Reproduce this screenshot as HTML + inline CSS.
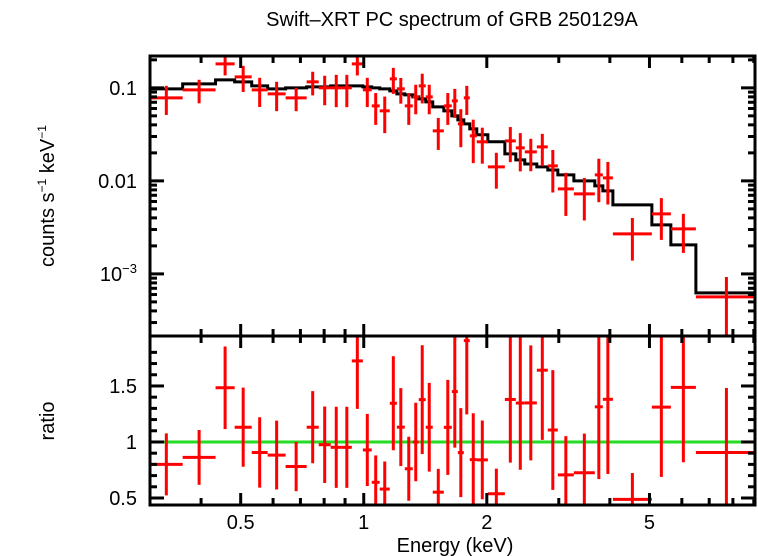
<!DOCTYPE html>
<html><head><meta charset="utf-8"><style>
html,body{margin:0;padding:0;background:#fff;}
svg{display:block;font-family:"Liberation Sans",sans-serif;}
</style></head><body>
<svg id="chart" width="758" height="556" viewBox="0 0 758 556" xmlns="http://www.w3.org/2000/svg">
<text x="452" y="26" font-size="20" text-anchor="middle">Swift–XRT PC spectrum of GRB 250129A</text>
<text transform="translate(54,196) rotate(-90)" font-size="20" text-anchor="middle">counts s<tspan font-size="12" dy="-8">−1</tspan><tspan dy="8"> keV</tspan><tspan font-size="12" dy="-8">−1</tspan></text>
<text transform="translate(54,421) rotate(-90)" font-size="20" text-anchor="middle">ratio</text>
<text x="455" y="552" font-size="20" text-anchor="middle">Energy (keV)</text>
<g id="g-top"></g>
<g id="g-bot"></g>
</svg>
<script>
const binEdges = [0.30,0.3606,0.434,0.4833,0.532,0.582,0.644,0.725,0.776,0.830,0.884,0.935,0.995,1.046,1.094,1.158,1.205,1.260,1.318,1.363,1.418,1.475,1.570,1.642,1.699,1.757,1.817,1.890,2.012,2.214,2.355,2.477,2.651,2.820,2.984,3.266,3.675,3.845,4.069,5.068,5.640,6.494,9.16];
const rates = [0.0781,0.0952,0.181,0.1313,0.0952,0.0862,0.0781,0.116,0.1,0.1,0.1,0.181,0.0952,0.064,0.0566,0.125,0.0976,0.064,0.080,0.105,0.080,0.0345,0.064,0.0725,0.041,0.0781,0.0305,0.0263,0.01414,0.0269,0.02264,0.0205,0.0232,0.0145,0.0082,0.00725,0.0116,0.01077,0.00269,0.00442,0.00305,0.000566];
const rateErrs = [0.027,0.027,0.045,0.041,0.033,0.030,0.022,0.033,0.035,0.038,0.038,0.045,0.033,0.024,0.024,0.039,0.030,0.024,0.028,0.037,0.028,0.013,0.024,0.025,0.018,0.027,0.015,0.011,0.0059,0.011,0.010,0.0078,0.0088,0.007,0.004,0.0035,0.0057,0.0052,0.0013,0.0021,0.00137,0.00036];
const model = [0.0976,0.1104,0.122,0.116,0.105,0.0976,0.1,0.1025,0.1025,0.105,0.105,0.105,0.1025,0.1,0.0976,0.0929,0.0862,0.0841,0.080,0.0762,0.0707,0.0625,0.0566,0.05,0.0453,0.041,0.0362,0.0313,0.0263,0.0195,0.0168,0.0152,0.01414,0.0131,0.0116,0.0100,0.00883,0.0078,0.00552,0.00337,0.00205,0.000625];
const xMajorTicks = [0.5,1,2,5];
const xMajorLabels = ["0.5","1","2","5"];
const xMinorTicks = [0.3,0.4,0.6,0.7,0.8,0.9,3,4,6,7,8,9];
const ratioTicks = [0.5,1,1.5];
const ratioLabels = ["0.5","1","1.5"];

const L=150,R=755,T1=56,B1=336,T2=336,B2=505;
const xmin=0.3,xmax=9.06,ymin=2.15e-4,ymax=0.22,rmin=0.4375,rmax=1.946;
const lg=Math.log10;
const X=e=>L+(lg(e)-lg(xmin))/(lg(xmax)-lg(xmin))*(R-L);
const Y=v=>B1-(lg(v)-lg(ymin))/(lg(ymax)-lg(ymin))*(B1-T1);
const YR=r=>B2-(r-rmin)/(rmax-rmin)*(B2-T2);
const NS="http://www.w3.org/2000/svg";
function mk(parent,tag,attrs){const e=document.createElementNS(NS,tag);for(const k in attrs)e.setAttribute(k,attrs[k]);parent.appendChild(e);return e;}
const gt=document.getElementById('g-top'), gb=document.getElementById('g-bot');
const clip=(v,a,b)=>Math.max(a,Math.min(b,v));

let d='';
for(let i=0;i<model.length;i++){
  const x0=clip(X(binEdges[i]),L,R),x1=clip(X(binEdges[i+1]),L,R),y=Y(model[i]);
  d+=(i===0?'M':'L')+x0+' '+y+' L'+x1+' '+y+' ';
}
const ml=mk(gt,'path',{d:d,fill:'none',stroke:'#000','stroke-width':3});



const gl=mk(gb,'line',{x1:L,x2:R,y1:YR(1),y2:YR(1),stroke:'#22dd22','stroke-width':3});



for(let i=0;i<rates.length;i++){
  const x0=clip(X(binEdges[i]),L,R),x1=clip(X(binEdges[i+1]),L,R);
  const xc=X(Math.sqrt(binEdges[i]*binEdges[i+1]));
  const v=rates[i],e=rateErrs[i];
  const g=mk(gt,'g',{stroke:'#ff0000','stroke-width':3});
  
  
  mk(g,'line',{x1:x0,x2:x1,y1:Y(v),y2:Y(v)});
  mk(g,'line',{x1:xc,x2:xc,y1:Y(v+e),y2:(v-e>ymin?Y(v-e):B1)});
  const r=v/model[i],re=e/model[i];
  const g2=mk(gb,'g',{stroke:'#ff0000','stroke-width':3});
  
  
  mk(g2,'line',{x1:x0,x2:x1,y1:clip(YR(r),T2,B2),y2:clip(YR(r),T2,B2)});
  mk(g2,'line',{x1:xc,x2:xc,y1:clip(YR(r+re),T2,B2),y2:clip(YR(r-re),T2,B2)});
}

for(const [t,b,nm] of [[T1,B1,'top-frame'],[T2,B2,'bottom-frame']]){
  const f=mk(document.getElementById('chart'),'rect',{x:L,y:t,width:R-L,height:b-t,fill:'none',stroke:'#000','stroke-width':3});
  
  
}
const svg=document.getElementById('chart');
const ax=mk(svg,'g',{stroke:'#000','stroke-width':3});


function xt(e,len){const x=X(e);for(const [t,b] of [[T1,B1],[T2,B2]]){mk(ax,'line',{x1:x,x2:x,y1:t,y2:t+len});mk(ax,'line',{x1:x,x2:x,y1:b,y2:b-len});}}
xMajorTicks.forEach(e=>xt(e,12));
xMinorTicks.forEach(e=>xt(e,7));
for(let p=-4;p<=-1;p++){for(let m=1;m<=9;m++){const v=m*Math.pow(10,p);if(v<ymin||v>ymax)continue;const y=Y(v),len=m===1?14:7;
  mk(ax,'line',{x1:L,x2:L+len,y1:y,y2:y});mk(ax,'line',{x1:R,x2:R-len,y1:y,y2:y});}}
for(let r=0.5;r<=1.9;r+=0.1){const y=YR(r);const maj=Math.abs(r*2-Math.round(r*2))<0.01;const len=maj?14:7;
  mk(ax,'line',{x1:L,x2:L+len,y1:y,y2:y});mk(ax,'line',{x1:R,x2:R-len,y1:y,y2:y});}

xMajorTicks.forEach((e,i)=>{const t=mk(svg,'text',{x:X(e),y:529,'font-size':20,'text-anchor':'middle'});t.textContent=xMajorLabels[i];
  
  });
ratioTicks.forEach((r,i)=>{const t=mk(svg,'text',{x:137,y:YR(r)+7,'font-size':20,'text-anchor':'end'});t.textContent=ratioLabels[i];
  
  });
const yl=[[0.1,'0.1'],[0.01,'0.01']];
yl.forEach(([v,s])=>{const t=mk(svg,'text',{x:137,y:Y(v)+7,'font-size':20,'text-anchor':'end'});t.textContent=s;
  
  });
const t3=mk(svg,'text',{x:137,y:Y(0.001)+7,'font-size':20,'text-anchor':'end'});


t3.innerHTML='10<tspan font-size="13" dy="-8">−3</tspan>';
</script>
</body></html>
